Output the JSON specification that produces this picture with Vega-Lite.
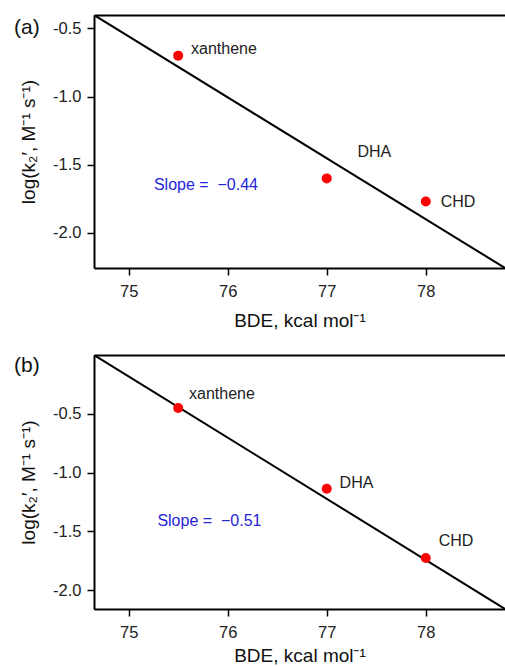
{
  "$schema": "https://vega.github.io/schema/vega-lite/v6.json",
  "padding": {"left": 14, "top": 15, "right": 0, "bottom": 0},
  "config": {
    "font": "Liberation Sans",
    "view": {"stroke": null},
    "axis": {"grid": false, "domainColor": "black", "domainWidth": 2, "tickColor": "black", "tickWidth": 1.5, "tickSize": 7, "labelFont": "Liberation Sans", "labelFontSize": 16.5, "labelColor": "#222", "titleFont": "Liberation Sans", "titleFontSize": 19, "titleFontWeight": "normal", "titleColor": "#111"}
  },
  "datasets": {
    "pts_a": [{"BDE": 75.5, "logk": -0.70, "compound": "xanthene"}, {"BDE": 77, "logk": -1.60, "compound": "DHA"}, {"BDE": 78, "logk": -1.77, "compound": "CHD"}],
    "fit_a": [{"BDE": 74.65, "logk": -0.402}, {"BDE": 78.8, "logk": -2.257}],
    "lab_a": [{"BDE": 75.63, "logk": -0.652, "text": "xanthene"}, {"BDE": 77.31, "logk": -1.41, "text": "DHA"}, {"BDE": 78.15, "logk": -1.77, "text": "CHD"}],
    "slope_a": [{"BDE": 75.255, "logk": -1.652, "text": "Slope =\u00a0 −0.44"}],
    "pts_b": [{"BDE": 75.5, "logk": -0.45, "compound": "xanthene"}, {"BDE": 77, "logk": -1.137, "compound": "DHA"}, {"BDE": 78, "logk": -1.726, "compound": "CHD"}],
    "fit_b": [{"BDE": 74.65, "logk": 0.0}, {"BDE": 78.8, "logk": -2.16}],
    "lab_b": [{"BDE": 75.61, "logk": -0.328, "text": "xanthene"}, {"BDE": 77.13, "logk": -1.091, "text": "DHA"}, {"BDE": 78.13, "logk": -1.584, "text": "CHD"}],
    "slope_b": [{"BDE": 75.29, "logk": -1.414, "text": "Slope =\u00a0 −0.51"}]
  },
  "spacing": 24,
  "vconcat": [
    {
      "width": 411, "height": 253,
      "title": {"text": "(a)", "anchor": "start", "frame": "group", "orient": "top", "fontSize": 21, "fontWeight": "normal", "baseline": "middle", "offset": -34, "dx": -80, "color": "#111"},
      "encoding": {"y": {"field": "logk", "type": "quantitative", "scale": {"domain": [-2.257, -0.402], "nice": false, "zero": false}, "axis": {"values": [-2, -1.5, -1, -0.5], "labelExpr": "replace(format(datum.value, '.1f'), '\u2212', '-')", "labelPadding": 6, "titlePadding": 14, "title": "log(k₂′, M⁻¹ s⁻¹)"}}},
      "layer": [
        {"data": {"name": "fit_a"}, "mark": {"type": "line", "color": "black", "strokeWidth": 2, "clip": true},
         "encoding": {"x": {"field": "BDE", "type": "quantitative", "scale": {"domain": [74.65, 78.8], "nice": false, "zero": false}, "axis": {"orient": "top", "labels": false, "ticks": false, "title": null, "domain": true}}}},
        {"data": {"name": "pts_a"}, "mark": {"type": "circle", "color": "#ff0000", "opacity": 1, "size": 100},
         "encoding": {"x": {"field": "BDE", "type": "quantitative", "scale": {"domain": [74.65, 78.8], "nice": false, "zero": false}, "axis": {"orient": "bottom", "values": [75, 76, 77, 78], "title": "BDE, kcal mol⁻¹", "labelPadding": 8, "titlePadding": 12}}}},
        {"data": {"name": "lab_a"}, "mark": {"type": "text", "align": "left", "baseline": "middle", "fontSize": 16, "color": "#222"},
         "encoding": {"x": {"field": "BDE", "type": "quantitative", "scale": {"domain": [74.65, 78.8], "nice": false, "zero": false}, "axis": null}, "text": {"field": "text"}}},
        {"data": {"name": "slope_a"}, "mark": {"type": "text", "align": "left", "baseline": "middle", "fontSize": 16, "color": "#2424d8"},
         "encoding": {"x": {"field": "BDE", "type": "quantitative", "scale": {"domain": [74.65, 78.8], "nice": false, "zero": false}, "axis": null}, "text": {"field": "text"}}}
      ],
      "resolve": {"axis": {"x": "independent"}}
    },
    {
      "width": 411, "height": 254,
      "title": {"text": "(b)", "anchor": "start", "frame": "group", "orient": "top", "fontSize": 21, "fontWeight": "normal", "baseline": "middle", "offset": -32, "dx": -80, "color": "#111"},
      "encoding": {"y": {"field": "logk", "type": "quantitative", "scale": {"domain": [-2.16, 0.0], "nice": false, "zero": false}, "axis": {"values": [-2, -1.5, -1, -0.5], "labelExpr": "replace(format(datum.value, '.1f'), '\u2212', '-')", "labelPadding": 6, "titlePadding": 14, "title": "log(k₂′, M⁻¹ s⁻¹)"}}},
      "layer": [
        {"data": {"name": "fit_b"}, "mark": {"type": "line", "color": "black", "strokeWidth": 2, "clip": true},
         "encoding": {"x": {"field": "BDE", "type": "quantitative", "scale": {"domain": [74.65, 78.8], "nice": false, "zero": false}, "axis": {"orient": "top", "labels": false, "ticks": false, "title": null, "domain": true}}}},
        {"data": {"name": "pts_b"}, "mark": {"type": "circle", "color": "#ff0000", "opacity": 1, "size": 100},
         "encoding": {"x": {"field": "BDE", "type": "quantitative", "scale": {"domain": [74.65, 78.8], "nice": false, "zero": false}, "axis": {"orient": "bottom", "values": [75, 76, 77, 78], "title": "BDE, kcal mol⁻¹", "labelPadding": 8, "titlePadding": 6}}}},
        {"data": {"name": "lab_b"}, "mark": {"type": "text", "align": "left", "baseline": "middle", "fontSize": 16, "color": "#222"},
         "encoding": {"x": {"field": "BDE", "type": "quantitative", "scale": {"domain": [74.65, 78.8], "nice": false, "zero": false}, "axis": null}, "text": {"field": "text"}}},
        {"data": {"name": "slope_b"}, "mark": {"type": "text", "align": "left", "baseline": "middle", "fontSize": 16, "color": "#2424d8"},
         "encoding": {"x": {"field": "BDE", "type": "quantitative", "scale": {"domain": [74.65, 78.8], "nice": false, "zero": false}, "axis": null}, "text": {"field": "text"}}}
      ],
      "resolve": {"axis": {"x": "independent"}}
    }
  ]
}
